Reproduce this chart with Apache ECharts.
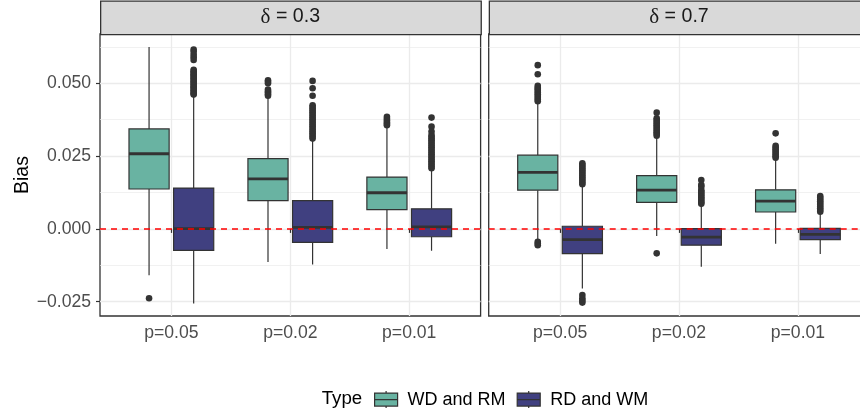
<!DOCTYPE html>
<html><head><meta charset="utf-8">
<script src="https://cdn.jsdelivr.net/npm/echarts@6/dist/echarts.min.js"></script>
<style>html,body{margin:0;padding:0;background:#fff}#c{width:860px;height:417px}</style>
</head><body><div id="c"></div>
<script>
const categories = ['p=0.05', 'p=0.02', 'p=0.01'];
const panelLabels = ['0.3', '0.7'];
const typeNames = ['WD and RM', 'RD and WM'];
const typeColors = ['#69b3a2', '#404080'];
const yTicks = [-0.025, 0, 0.025, 0.05];
const yMinorTicks = [-0.0125, 0.0125, 0.0375, 0.0625];
const yMin = -0.0299, yMax = 0.0669;

// [lower whisker, Q1, median, Q3, upper whisker] per category
const boxWDRM_d03 = [
  [-0.0159, 0.0137, 0.0258, 0.0343, 0.0624],
  [-0.0114, 0.0097, 0.0172, 0.0241, 0.0453],
  [-0.0069, 0.0066, 0.0124, 0.0178, 0.0351]
];
const boxRDWM_d03 = [
  [-0.0256, -0.0074, 0.0001, 0.0140, 0.0458],
  [-0.0122, -0.0046, 0.0005, 0.0097, 0.0304],
  [-0.0075, -0.0027, 0.0007, 0.0069, 0.0203]
];
const boxWDRM_d07 = [
  [-0.0038, 0.0133, 0.0194, 0.0253, 0.0431],
  [-0.0024, 0.0091, 0.0133, 0.0183, 0.0311],
  [-0.0051, 0.0058, 0.0095, 0.0134, 0.0239]
];
const boxRDWM_d07 = [
  [-0.0205, -0.0085, -0.0037, 0.0009, 0.0148],
  [-0.0130, -0.0056, -0.0028, 0.0001, 0.0082],
  [-0.0086, -0.0037, -0.0019, 0.0002, 0.0056]
];

// outliers: [category index, value]
const outWDRM_d03 = [
  [0, -0.0238],
  [1, 0.0510], [1, 0.0505], [1, 0.0500], [1, 0.0478], [1, 0.0472], [1, 0.0467], [1, 0.0462], [1, 0.0457],
  [2, 0.0385], [2, 0.0378], [2, 0.0372], [2, 0.0365], [2, 0.0360], [2, 0.0356]
];
const outRDWM_d03 = [
  [0, 0.0616], [0, 0.0608], [0, 0.0598], [0, 0.0589], [0, 0.0580],
  [0, 0.0546], [0, 0.0541], [0, 0.0536], [0, 0.0531], [0, 0.0526], [0, 0.0521], [0, 0.0516], [0, 0.0511],
  [0, 0.0506], [0, 0.0501], [0, 0.0496], [0, 0.0490], [0, 0.0485], [0, 0.0480], [0, 0.0475], [0, 0.0470], [0, 0.0465], [0, 0.0461],
  [1, 0.0508], [1, 0.0483], [1, 0.0457],
  [1, 0.0424], [1, 0.0418], [1, 0.0412], [1, 0.0406], [1, 0.0400], [1, 0.0394], [1, 0.0388], [1, 0.0382],
  [1, 0.0376], [1, 0.0370], [1, 0.0364], [1, 0.0358], [1, 0.0352], [1, 0.0346], [1, 0.0340], [1, 0.0334],
  [1, 0.0328], [1, 0.0322], [1, 0.0316], [1, 0.0310],
  [2, 0.0382], [2, 0.0351], [2, 0.0334],
  [2, 0.0322], [2, 0.0316], [2, 0.0310], [2, 0.0304], [2, 0.0298], [2, 0.0292], [2, 0.0286], [2, 0.0280],
  [2, 0.0274], [2, 0.0268], [2, 0.0262], [2, 0.0256], [2, 0.0250], [2, 0.0244], [2, 0.0238], [2, 0.0232],
  [2, 0.0226], [2, 0.0220], [2, 0.0214], [2, 0.0208]
];
const outWDRM_d07 = [
  [0, 0.0562], [0, 0.0531], [0, 0.0491], [0, 0.0484],
  [0, 0.0480], [0, 0.0474], [0, 0.0468], [0, 0.0462], [0, 0.0456], [0, 0.0450], [0, 0.0444], [0, 0.0438],
  [0, -0.0044], [0, -0.0050], [0, -0.0056],
  [1, 0.0399], [1, 0.0380], [1, 0.0374], [1, 0.0368], [1, 0.0362], [1, 0.0356], [1, 0.0350], [1, 0.0344],
  [1, 0.0338], [1, 0.0332], [1, 0.0326], [1, 0.0320], [1, -0.0084],
  [2, 0.0328], [2, 0.0285], [2, 0.0279], [2, 0.0273], [2, 0.0267], [2, 0.0261], [2, 0.0255], [2, 0.0249], [2, 0.0244]
];
const outRDWM_d07 = [
  [0, 0.0225], [0, 0.0219], [0, 0.0213], [0, 0.0207], [0, 0.0201], [0, 0.0195], [0, 0.0189], [0, 0.0183],
  [0, 0.0177], [0, 0.0171], [0, 0.0165], [0, 0.0159], [0, 0.0153],
  [0, -0.0227], [0, -0.0238], [0, -0.0246], [0, -0.0253],
  [1, 0.0168], [1, 0.0151], [1, 0.0145], [1, 0.0133], [1, 0.0127], [1, 0.0121], [1, 0.0115], [1, 0.0109],
  [1, 0.0103], [1, 0.0097], [1, 0.0091], [1, 0.0086],
  [2, 0.0113], [2, 0.0107], [2, 0.0101], [2, 0.0095], [2, 0.0089], [2, 0.0083], [2, 0.0077], [2, 0.0071],
  [2, 0.0065], [2, 0.0059]
];

const boxes = [[boxWDRM_d03, boxRDWM_d03], [boxWDRM_d07, boxRDWM_d07]];
const outliers = [[outWDRM_d03, outRDWM_d03], [outWDRM_d07, outRDWM_d07]];

// layout (ggplot-like)
const DODGE = 0.1875, BOX_W = 0.3375;
const offsets = [-DODGE, DODGE];
const panelLeft = [100, 488.7], panelW = 380.6, panelTop = 34, panelH = 282;
const FONT = '"Liberation Sans", Arial, Helvetica, sans-serif';
const GRID_C = '#EBEBEB', DARK = '#333333';

function fmtY(v) {
  if (Math.abs(v) < 1e-9) return '0.000';
  return (v < 0 ? '\u2212' : '') + Math.abs(v).toFixed(3);
}

function makeBoxRender(offset, fill) {
  return function (params, api) {
    const x = api.value(0) + 1 + offset;
    const pMin = api.coord([x, api.value(1)]);
    const pQ1L = api.coord([x - BOX_W / 2, api.value(2)]);
    const pMedL = api.coord([x - BOX_W / 2, api.value(3)]);
    const pMedR = api.coord([x + BOX_W / 2, api.value(3)]);
    const pQ3R = api.coord([x + BOX_W / 2, api.value(4)]);
    const pMax = api.coord([x, api.value(5)]);
    return {
      type: 'group',
      children: [
        { type: 'line', shape: { x1: pMin[0], y1: pMin[1], x2: pMin[0], y2: pQ1L[1] }, style: { stroke: DARK, lineWidth: 1.2 } },
        { type: 'line', shape: { x1: pMax[0], y1: pQ3R[1], x2: pMax[0], y2: pMax[1] }, style: { stroke: DARK, lineWidth: 1.2 } },
        { type: 'rect', shape: { x: pQ1L[0], y: pQ3R[1], width: pQ3R[0] - pQ1L[0], height: pQ1L[1] - pQ3R[1] },
          style: { fill: fill, stroke: DARK, lineWidth: 1.2 } },
        { type: 'line', shape: { x1: pMedL[0], y1: pMedL[1], x2: pMedR[0], y2: pMedR[1] }, style: { stroke: DARK, lineWidth: 2.8 } }
      ]
    };
  };
}

const grids = [], xAxes = [], yAxes = [], series = [], graphics = [];
for (let p = 0; p < 2; p++) {
  grids.push({ left: panelLeft[p], top: panelTop, width: panelW, height: panelH, show: true,
    borderColor: DARK, borderWidth: 1.3, backgroundColor: '#fff', containLabel: false, outerBoundsMode: 'none' });
  xAxes.push({
    type: 'value', gridIndex: p, min: 0.4, max: 3.6,
    axisLine: { show: false },
    axisTick: { show: true, customValues: [1, 2, 3], length: 4, lineStyle: { color: DARK, width: 1.2 } },
    axisLabel: { show: true, customValues: [1, 2, 3], formatter: v => categories[Math.round(v) - 1],
      color: '#4D4D4D', fontSize: 17.6, fontFamily: FONT, margin: 8 },
    splitLine: { show: true, lineStyle: { color: GRID_C, width: 1.3 } }
  });
  yAxes.push({
    type: 'value', gridIndex: p, min: yMin, max: yMax, position: 'left',
    name: p === 0 ? 'Bias' : '', nameLocation: 'middle', nameGap: 66,
    nameTextStyle: { color: '#000', fontSize: 19.6, fontFamily: FONT },
    axisLine: { show: false },
    axisTick: { show: p === 0, customValues: yTicks, length: 4, lineStyle: { color: DARK, width: 1.2 } },
    axisLabel: { show: p === 0, customValues: yTicks, formatter: fmtY, color: '#4D4D4D', fontSize: 17.6, fontFamily: FONT, margin: 9 },
    splitLine: { show: true, lineStyle: { color: GRID_C, width: 1.3 } }
  });
  yAxes.push({
    type: 'value', gridIndex: p, min: yMin, max: yMax, position: 'right',
    axisLine: { show: false },
    axisTick: { show: false, customValues: yMinorTicks },
    axisLabel: { show: false, customValues: yMinorTicks },
    splitLine: { show: true, lineStyle: { color: GRID_C, width: 0.7 } }
  });
  for (let t = 0; t < 2; t++) {
    series.push({
      type: 'custom', name: typeNames[t], xAxisIndex: p, yAxisIndex: 2 * p,
      renderItem: makeBoxRender(offsets[t], typeColors[t]),
      itemStyle: { color: typeColors[t], borderColor: DARK, borderWidth: 1.2 },
      encode: { x: 0, y: [1, 2, 3, 4, 5] },
      data: boxes[p][t].map((b, i) => [i].concat(b)),
      z: 2, silent: true, clip: false
    });
  }
  for (let t = 0; t < 2; t++) {
    const s = {
      type: 'scatter', name: 'outliers ' + typeNames[t], xAxisIndex: p, yAxisIndex: 2 * p,
      symbol: 'circle', symbolSize: 6.6,
      itemStyle: { color: DARK, opacity: 1 },
      data: outliers[p][t].map(o => [o[0] + 1 + offsets[t], o[1]]),
      z: 3, silent: true
    };
    if (t === 1) {
      s.markLine = { silent: true, symbol: ['none', 'none'], label: { show: false },
        lineStyle: { color: '#FF0000', type: [6, 5], width: 1.6 }, data: [{ yAxis: 0 }], z: 6 };
    }
    series.push(s);
  }
  // strip
  graphics.push({ type: 'rect', left: panelLeft[p], top: 0.5, z: 10,
    shape: { x: 0, y: 0, width: panelW, height: panelTop - 0.5 },
    style: { fill: '#D9D9D9', stroke: DARK, lineWidth: 1.3 } });
  graphics.push({ type: 'text', z: 11, x: panelLeft[p] + panelW / 2, y: 17,
    style: { text: '{d|\u03b4} = ' + panelLabels[p], align: 'center', verticalAlign: 'middle',
      fill: '#1A1A1A', font: '19.6px ' + FONT,
      rich: { d: { fontFamily: '"Liberation Serif", "DejaVu Serif", serif', fontSize: 21, fill: '#1A1A1A' } } } });
}
graphics.push({ type: 'text', x: 321.7, y: 399, z: 11,
  style: { text: 'Type', align: 'left', verticalAlign: 'middle', fill: '#000', font: '18.7px ' + FONT } });

const chart = echarts.init(document.getElementById('c'), null, { renderer: 'canvas' });
chart.setOption({
  animation: false,
  backgroundColor: '#ffffff',
  grid: grids, xAxis: xAxes, yAxis: yAxes, series: series,
  legend: {
    data: typeNames, left: 374, top: 390.5, orient: 'horizontal', padding: 0,
    itemWidth: 23, itemHeight: 17, itemGap: 11, selectedMode: false,
    icon: 'path://M0,2 L23,2 L23,15 L0,15 Z M0,8.5 L23,8.5 M11.5,0 L11.5,2 M11.5,15 L11.5,17',
    itemStyle: { borderColor: DARK, borderWidth: 1.2 },
    textStyle: { color: '#000', fontSize: 18, fontFamily: FONT, padding: [0, 0, 0, 5] }
  },
  graphic: graphics
});
</script></body></html>
